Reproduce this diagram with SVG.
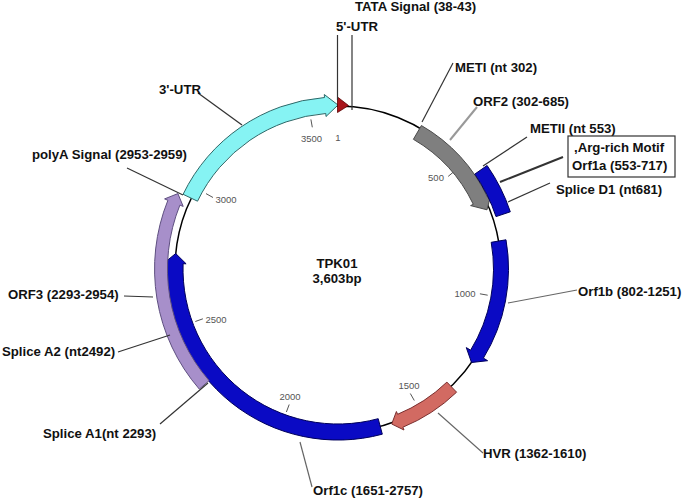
<svg xmlns="http://www.w3.org/2000/svg" width="685" height="500" viewBox="0 0 685 500">
<style>
.lbl{font-family:"Liberation Sans",Arial,sans-serif;font-weight:bold;font-size:13.2px;fill:#111}
.tk{font-family:"Liberation Sans",Arial,sans-serif;font-size:9.5px;fill:#555;text-anchor:middle}
.ld{stroke:#333;stroke-width:1.2;fill:none}
.ldg{stroke:#666;stroke-width:1.2;fill:none}
.tkl{stroke:#555;stroke-width:1}
.blue{fill:#0a0ac4;stroke:#00005a;stroke-width:1}
</style>
<rect width="685" height="500" fill="#fff"/>
<g id="backbone">
<circle cx="338" cy="269" r="163" fill="none" stroke="#000" stroke-width="1.5"/>
</g>
<g id="ticks">
<line class="tkl" x1="454.4" y1="171.2" x2="448.2" y2="176.4"/>
<line class="tkl" x1="487.7" y1="295.2" x2="479.9" y2="293.8"/>
<line class="tkl" x1="414.3" y1="400.5" x2="410.3" y2="393.5"/>
<line class="tkl" x1="286.4" y1="412" x2="289.2" y2="404.5"/>
<line class="tkl" x1="195.3" y1="321.5" x2="202.9" y2="318.8"/>
<line class="tkl" x1="206" y1="193.6" x2="213" y2="197.5"/>
<line class="tkl" x1="310.9" y1="119.4" x2="312.3" y2="127.3"/>
<text class="tk" x="338" y="141">1</text>
<text class="tk" x="436" y="181">500</text>
<text class="tk" x="465" y="297">1000</text>
<text class="tk" x="409" y="389">1500</text>
<text class="tk" x="290" y="400">2000</text>
<text class="tk" x="216" y="323">2500</text>
<text class="tk" x="226" y="203">3000</text>
<text class="tk" x="311.5" y="141.5">3500</text>
</g>
<g id="utr3">
<path d="M183.1 194.3 A172 172 0 0 1 324.5 97.5 L324.3 94.5 L338 105 L326 116.5 L325.8 113.5 A156 156 0 0 0 197.5 201.2 Z" fill="#86f3f3" stroke="#2f6868" stroke-width="1"/>
</g>
<g id="utr5">
<path d="M337.5 97 L348.5 105.5 L337.5 112.5 Z" fill="#a8141a" stroke="#5a0000" stroke-width="0.8"/>
</g>
<g id="orf2">
<path d="M421.4 125.5 A166 166 0 0 1 487.7 197.4 L490.5 196.1 L487 209.8 L470.6 205.6 L473.3 204.3 A150 150 0 0 0 413.4 139.3 Z" fill="#7f7f7f" stroke="#4a4a4a" stroke-width="1"/>
</g>
<g id="orf1a">
<path class="blue" d="M487.1 165.5 A181.5 181.5 0 0 1 510.3 211.8 L496 216.6 A166.5 166.5 0 0 0 474.8 174.1 Z"/>
</g>
<g id="orf1b">
<path class="blue" d="M506 239.8 A170.5 170.5 0 0 1 483.4 358.1 L487.6 360.7 L471.5 362.5 L466.3 347.6 L470.6 350.2 A155.5 155.5 0 0 0 491.2 242.3 Z"/>
</g>
<g id="hvr">
<path d="M456.6 392.2 A171 171 0 0 1 402.9 427.2 L404 430 L391.7 424 L396.4 411.5 L397.6 414.3 A157 157 0 0 0 446.9 382.1 Z" fill="#d26a62" stroke="#7a3030" stroke-width="1"/>
</g>
<g id="orf1c">
<path class="blue" d="M382.3 434.2 A171 171 0 0 1 167.1 263.1 L164.1 263 L175.7 253.5 L186.1 263.8 L183.1 263.7 A155 155 0 0 0 378.2 418.7 Z"/>
</g>
<g id="orf3">
<path d="M199.3 389.1 A183.5 183.5 0 0 1 167.9 200.3 L164.6 198.9 L177.9 193.6 L183.2 206.4 L179.9 205.1 A170.5 170.5 0 0 0 209.1 380.6 Z" fill="#a78fca" stroke="#5e4f80" stroke-width="1"/>
</g>
<g id="connectors">
<line class="ld" x1="352" y1="35" x2="352" y2="110"/>
<line class="ld" x1="337.5" y1="35" x2="337.5" y2="100"/>
<line class="ld" x1="453" y1="63" x2="422" y2="122"/>
<line stroke="#999" stroke-width="2" x1="477" y1="107" x2="450" y2="140"/>
<line class="ld" x1="527" y1="137" x2="483" y2="166"/>
<line stroke="#333" stroke-width="2" x1="563" y1="157" x2="500" y2="182"/>
<line class="ld" x1="550" y1="183" x2="508" y2="202"/>
<line class="ldg" x1="577" y1="290" x2="508" y2="303"/>
<line class="ldg" x1="483" y1="453" x2="438" y2="413"/>
<line class="ldg" x1="312" y1="487" x2="300" y2="442"/>
<line class="ld" x1="160" y1="424" x2="208" y2="383"/>
<line class="ld" x1="118" y1="352" x2="170" y2="335"/>
<line class="ld" x1="124" y1="296" x2="153" y2="297"/>
<line class="ld" x1="127" y1="168" x2="183" y2="195"/>
<line class="ld" x1="198" y1="93" x2="242" y2="125"/>
</g>
<g id="labels">
<text class="lbl" x="355" y="11">TATA Signal (38-43)</text>
<text class="lbl" x="336" y="30.5">5'-UTR</text>
<text class="lbl" x="455" y="72">METI (nt 302)</text>
<text class="lbl" x="473" y="106">ORF2 (302-685)</text>
<text class="lbl" x="530" y="133">METII (nt 553)</text>
<g id="motif-box">
<rect x="568" y="136" width="107" height="41" fill="#fff" stroke="#333" stroke-width="1.2"/>
<text class="lbl" x="574" y="151.5">,Arg-rich Motif</text>
<text class="lbl" x="572" y="170">Orf1a (553-717)</text>
</g>
<text class="lbl" x="556" y="194">Splice D1 (nt681)</text>
<text class="lbl" x="578" y="296">Orf1b (802-1251)</text>
<text class="lbl" x="483" y="458">HVR (1362-1610)</text>
<text class="lbl" x="313" y="495">Orf1c (1651-2757)</text>
<text class="lbl" x="43" y="438">Splice A1(nt 2293)</text>
<text class="lbl" x="2" y="356">Splice A2 (nt2492)</text>
<text class="lbl" x="8" y="299">ORF3 (2293-2954)</text>
<text class="lbl" x="32" y="159">polyA Signal (2953-2959)</text>
<text class="lbl" x="159" y="94">3'-UTR</text>
<text class="lbl" x="337" y="268" text-anchor="middle">TPK01</text>
<text class="lbl" x="337" y="283" text-anchor="middle">3,603bp</text>
</g>
</svg>
